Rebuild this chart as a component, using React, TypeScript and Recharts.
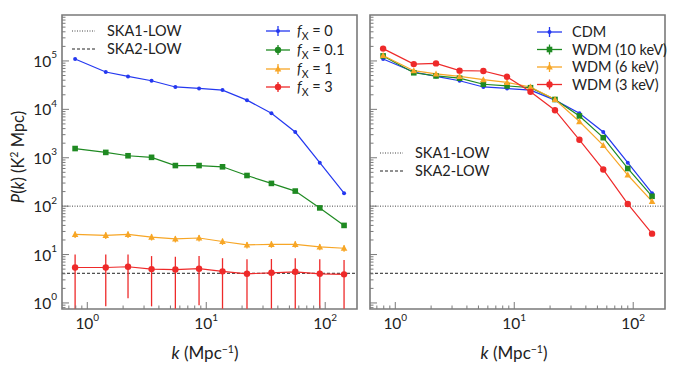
import React from 'react';
import {
  ComposedChart,
  Line,
  XAxis,
  YAxis,
  ErrorBar,
  ReferenceLine,
  ReferenceArea,
} from 'recharts';

// wavenumbers shared by every series (Mpc^-1)
const K = [0.79, 1.43, 2.2, 3.47, 5.5, 8.7, 13.7, 22, 35.3, 56, 90, 144];

// left panel: f_X
const FX0 = [1.1e5, 5.9e4, 4.8e4, 3.9e4, 2.9e4, 2.7e4, 2.5e4, 1.55e4, 8.3e3, 3.4e3, 790, 185];
const FX01 = [1550, 1290, 1100, 1020, 690, 690, 650, 430, 295, 205, 92, 40];
const FX1 = [26, 25, 26, 23, 21, 22, 18.6, 15.8, 16.3, 16.3, 14.4, 13.5];
const FX1_ERR = [4, 4, 4, 3.5, 3.2, 3.3, 2.8, 2.4, 2.5, 2.5, 2.2, 2.1];
const FX3 = [5.4, 5.4, 5.6, 5.0, 4.9, 5.1, 4.5, 4.0, 4.2, 4.4, 4.0, 3.9];
const FX3_HI = [10, 10, 10, 9.3, 9, 9.3, 8.4, 8, 8.1, 8.4, 8, 7.7];
// lower ends; the ones at 0.76 run off the bottom of the frame
const FX3_LO = [0.76, 0.85, 1.25, 0.85, 0.76, 0.9, 0.76, 0.76, 0.76, 0.76, 0.76, 0.76];

// right panel: dark matter models
const CDM = FX0;
const WDM10 = [1.27e5, 5.7e4, 4.9e4, 4.4e4, 3.3e4, 3.05e4, 2.8e4, 1.6e4, 7.3e3, 2.6e3, 600, 160];
const WDM6 = [1.3e5, 6.3e4, 5.4e4, 4.8e4, 4.1e4, 3.6e4, 2.9e4, 1.6e4, 5.6e3, 1.8e3, 440, 125];
const WDM3 = [1.8e5, 8.6e4, 8.9e4, 6.3e4, 6.2e4, 4.7e4, 2.3e4, 9.6e3, 2.35e3, 570, 111, 27];

// SKA noise levels
const SKA1 = 100;
const SKA2 = 4.1;

const X_TICKS = [0.7, 0.8, 0.9, 1, 2, 3, 4, 5, 6, 7, 8, 9, 10, 20, 30, 40, 50, 60, 70, 80, 90, 100];
const Y_TICKS: number[] = [0.8, 0.9];
for (let e = 0; e <= 5; e++) {
  for (let m = 1; m <= 9; m++) {
    if (e === 5 && m > 8) break;
    Y_TICKS.push(m * Math.pow(10, e));
  }
}

const XMIN = 0.613;
const XMAX = 185;
const YMIN = 0.75;
const YMAX = 8.9e5;

const BLUE = '#2438f0';
const GREEN = '#1f8a22';
const ORANGE = '#f7a626';
const RED = '#ee2a2a';
const FRAME = '#7a7a7a';
const FONT = 'Lato, "Noto Sans", sans-serif';

const data = K.map((k, i) => ({
  k,
  fx0: FX0[i],
  fx01: FX01[i],
  fx1: FX1[i],
  fx1Err: FX1_ERR[i],
  fx3: FX3[i],
  fx3Err: [FX3[i] - FX3_LO[i], FX3_HI[i] - FX3[i]],
  cdm: CDM[i],
  wdm10: WDM10[i],
  wdm6: WDM6[i],
  wdm3: WDM3[i],
}));

const isDecade = (v: number) => Math.abs(Math.log10(v) - Math.round(Math.log10(v))) < 1e-6;

function XTick(props: any) {
  const { x, y, payload } = props;
  const v = payload.value;
  const major = isDecade(v);
  return (
    <g>
      <line x1={x} x2={x} y1={y} y2={y - (major ? 7 : 3.5)} stroke={FRAME} strokeWidth={1} />
      {major && (
        <text x={x} y={y + 20} textAnchor="middle" fontSize={15.5} fill="#222" fontFamily={FONT}>
          10
          <tspan dy={-8} fontSize={10}>
            {Math.round(Math.log10(v))}
          </tspan>
        </text>
      )}
    </g>
  );
}

function YTick(props: any) {
  const { x, y, payload, showLabel } = props;
  const v = payload.value;
  const major = isDecade(v);
  return (
    <g>
      <line x1={x} x2={x + (major ? 7 : 3.5)} y1={y} y2={y} stroke={FRAME} strokeWidth={1} />
      {major && showLabel && (
        <text x={x - 5} y={y + 6} textAnchor="end" fontSize={15.5} fill="#222" fontFamily={FONT}>
          10
          <tspan dy={-8.5} fontSize={10}>
            {Math.round(Math.log10(v))}
          </tspan>
        </text>
      )}
    </g>
  );
}

type Shape = 'dot' | 'circle' | 'square' | 'triangle';

function Marker({ cx, cy, shape, color }: { cx: number; cy: number; shape: Shape; color: string }) {
  if (shape === 'square') return <rect x={cx - 2.8} y={cy - 2.8} width={5.6} height={5.6} fill={color} />;
  if (shape === 'triangle')
    return <polygon points={`${cx},${cy - 3.5} ${cx + 3.3},${cy + 2.6} ${cx - 3.3},${cy + 2.6}`} fill={color} />;
  return <circle cx={cx} cy={cy} r={shape === 'dot' ? 2 : 3.2} fill={color} />;
}

const dotFor = (shape: Shape, color: string) => (p: any) => (
  <Marker key={`${shape}-${p.index}`} cx={p.cx} cy={p.cy} shape={shape} color={color} />
);

function LegendRow(props: {
  x1: number;
  x2: number;
  y: number;
  color: string;
  shape: Shape;
  tx: number;
  children: React.ReactNode;
}) {
  const { x1, x2, y, color, shape, tx, children } = props;
  const cx = (x1 + x2) / 2;
  return (
    <g>
      <line x1={x1} x2={x2} y1={y} y2={y} stroke={color} strokeWidth={1.3} />
      <line x1={cx} x2={cx} y1={y - 5} y2={y + 5} stroke={color} strokeWidth={1.3} />
      <Marker cx={cx} cy={y} shape={shape} color={color} />
      <text x={tx} y={y + 5} fontSize={14.5} fill="#222" fontFamily={FONT}>
        {children}
      </text>
    </g>
  );
}

function SkaLegend({ x1, x2, tx, y }: { x1: number; x2: number; tx: number; y: number }) {
  return (
    <g>
      <line x1={x1} x2={x2} y1={y} y2={y} stroke="#444" strokeWidth={1} strokeDasharray="1 1.5" />
      <text x={tx} y={y + 5} fontSize={14.5} fill="#222" fontFamily={FONT}>
        SKA1-LOW
      </text>
      <line x1={x1} x2={x2} y1={y + 18} y2={y + 18} stroke="#222" strokeWidth={1} strokeDasharray="3 2" />
      <text x={tx} y={y + 23} fontSize={14.5} fill="#222" fontFamily={FONT}>
        SKA2-LOW
      </text>
    </g>
  );
}

const fx = (n: string) => (
  <>
    <tspan fontStyle="italic">f</tspan>
    <tspan dy={4} fontSize={10.5}>
      X
    </tspan>
    <tspan dy={-4}> = {n}</tspan>
  </>
);

function Panel({ left, width, marginLeft, marginRight, showYLabels, children }: any) {
  return (
    <div style={{ position: 'absolute', left, top: 0 }}>
      <ComposedChart
        width={width}
        height={370}
        data={data}
        margin={{ top: 15, right: marginRight, bottom: 60, left: marginLeft - 1 }}
      >
        <XAxis
          type="number"
          dataKey="k"
          scale="log"
          domain={[XMIN, XMAX]}
          allowDataOverflow
          ticks={X_TICKS}
          interval={0}
          height={1}
          tickSize={0}
          tickMargin={0}
          axisLine={false}
          tickLine={false}
          tick={(p: any) => <XTick {...p} />}
        />
        <YAxis
          type="number"
          scale="log"
          domain={[YMIN, YMAX]}
          allowDataOverflow
          ticks={Y_TICKS}
          interval={0}
          width={1}
          tickSize={0}
          tickMargin={0}
          axisLine={false}
          tickLine={false}
          tick={(p: any) => <YTick {...p} showLabel={showYLabels} />}
        />
        <ReferenceLine y={SKA1} stroke="#444" strokeWidth={1} strokeDasharray="1 1.5" />
        <ReferenceLine y={SKA2} stroke="#222" strokeWidth={1} strokeDasharray="3 2" />
        {children}
        <ReferenceArea x1={XMIN} x2={XMAX} y1={YMIN} y2={YMAX} fill="none" stroke={FRAME} strokeWidth={1.6} />
      </ComposedChart>
    </div>
  );
}

export default function App() {
  return (
    <div
      style={{
        position: 'absolute',
        left: 0,
        top: 0,
        width: 683,
        height: 370,
        background: '#fff',
        overflow: 'hidden',
      }}
    >
      <Panel left={0} width={360} marginLeft={62} marginRight={3} showYLabels>
        <Line dataKey="fx0" stroke={BLUE} strokeWidth={1.2} dot={dotFor('dot', BLUE)} isAnimationActive={false} />
        <Line dataKey="fx01" stroke={GREEN} strokeWidth={1.2} dot={dotFor('square', GREEN)} isAnimationActive={false} />
        <Line dataKey="fx1" stroke={ORANGE} strokeWidth={1.2} dot={dotFor('triangle', ORANGE)} isAnimationActive={false}>
          <ErrorBar dataKey="fx1Err" direction="y" width={0} stroke={ORANGE} strokeWidth={1.3} />
        </Line>
        <Line dataKey="fx3" stroke={RED} strokeWidth={1.2} dot={dotFor('circle', RED)} isAnimationActive={false}>
          <ErrorBar dataKey="fx3Err" direction="y" width={0} stroke={RED} strokeWidth={1.3} />
        </Line>
      </Panel>
      <Panel left={360} width={323} marginLeft={10} marginRight={18} showYLabels={false}>
        <Line dataKey="cdm" stroke={BLUE} strokeWidth={1.2} dot={dotFor('dot', BLUE)} isAnimationActive={false} />
        <Line dataKey="wdm10" stroke={GREEN} strokeWidth={1.2} dot={dotFor('square', GREEN)} isAnimationActive={false} />
        <Line dataKey="wdm6" stroke={ORANGE} strokeWidth={1.2} dot={dotFor('triangle', ORANGE)} isAnimationActive={false} />
        <Line dataKey="wdm3" stroke={RED} strokeWidth={1.2} dot={dotFor('circle', RED)} isAnimationActive={false} />
      </Panel>

      <svg width={683} height={370} style={{ position: 'absolute', left: 0, top: 0, pointerEvents: 'none' }}>
        <text
          transform="translate(24,157) rotate(-90)"
          textAnchor="middle"
          fontSize={16.5}
          fill="#222"
          fontFamily={FONT}
        >
          <tspan fontStyle="italic">P</tspan>(<tspan fontStyle="italic">k</tspan>) (K
          <tspan dy={-6} fontSize={10.5}>
            2
          </tspan>
          <tspan dy={6}> Mpc)</tspan>
        </text>
        {[205, 514].map((cx) => (
          <text key={cx} x={cx} y={359} textAnchor="middle" fontSize={17} fill="#222" fontFamily={FONT}>
            <tspan fontStyle="italic">k</tspan> (Mpc
            <tspan dy={-6} fontSize={10.5}>
              −1
            </tspan>
            <tspan dy={6}>)</tspan>
          </text>
        ))}

        <SkaLegend x1={72} x2={95} tx={107} y={31} />
        <LegendRow x1={266} x2={290} y={31} color={BLUE} shape="dot" tx={297}>
          {fx('0')}
        </LegendRow>
        <LegendRow x1={266} x2={290} y={50} color={GREEN} shape="circle" tx={297}>
          {fx('0.1')}
        </LegendRow>
        <LegendRow x1={266} x2={290} y={69} color={ORANGE} shape="triangle" tx={297}>
          {fx('1')}
        </LegendRow>
        <LegendRow x1={266} x2={290} y={87} color={RED} shape="circle" tx={297}>
          {fx('3')}
        </LegendRow>

        <LegendRow x1={537} x2={562} y={32} color={BLUE} shape="dot" tx={572}>
          CDM
        </LegendRow>
        <LegendRow x1={537} x2={562} y={49.5} color={GREEN} shape="square" tx={572}>
          WDM (10 keV)
        </LegendRow>
        <LegendRow x1={537} x2={562} y={67} color={ORANGE} shape="triangle" tx={572}>
          WDM (6 keV)
        </LegendRow>
        <LegendRow x1={537} x2={562} y={84.5} color={RED} shape="circle" tx={572}>
          WDM (3 keV)
        </LegendRow>
        <SkaLegend x1={380} x2={403} tx={415} y={153} />
      </svg>
    </div>
  );
}
